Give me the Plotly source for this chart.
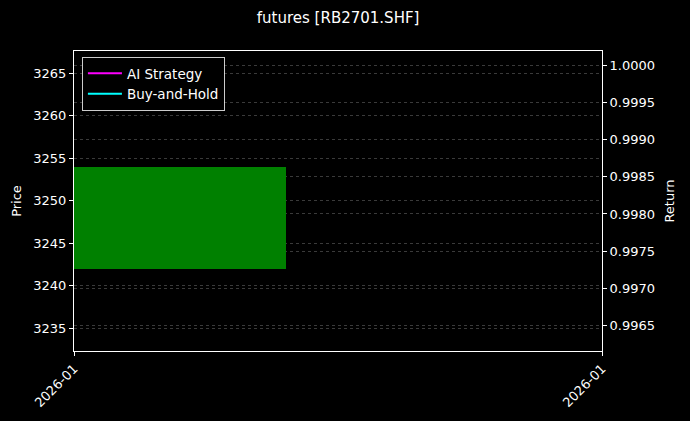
import plotly.graph_objects as go
import pandas as pd

# ---- data ----
dates = ["2026-01-05"]
opens = [3242.0]
closes = [3254.0]
ai_strategy = [1.0]
buy_and_hold = [1.0]
tick_labels = ["2026-01", "2026-01"]

DAY_MS = 86400000
bar_w_days = 0.6

d = pd.to_datetime(dates)
bar_x = list(d)
bar_base = opens
bar_len = [c - o for o, c in zip(opens, closes)]

x_left = d[0] - pd.Timedelta(days=bar_w_days / 2)
x_right = x_left + pd.Timedelta(days=bar_w_days * 528 / 212)

font = "DejaVu Sans"
fig = go.Figure()
fig.add_trace(go.Bar(
    x=bar_x, y=bar_len, base=bar_base, width=[bar_w_days * DAY_MS],
    marker=dict(color="#008000", line=dict(width=0)),
    showlegend=False, yaxis="y", hoverinfo="skip",
))
fig.add_trace(go.Scatter(x=bar_x, y=ai_strategy, mode="lines", name="AI Strategy",
                         line=dict(color="#ff00ff", width=2), yaxis="y2"))
fig.add_trace(go.Scatter(x=bar_x, y=buy_and_hold, mode="lines", name="Buy-and-Hold",
                         line=dict(color="#00ffff", width=2), yaxis="y2"))

grid = dict(showgrid=True, gridcolor="rgba(128,128,128,0.45)", gridwidth=0.5, griddash="dot")
axline = dict(showline=True, linecolor="white", linewidth=1, ticks="outside",
              tickcolor="white", ticklen=4, tickfont=dict(size=13, color="white", family=font))

fig.update_layout(
    width=690, height=421,
    paper_bgcolor="black", plot_bgcolor="black",
    margin=dict(l=74, r=88, t=51, b=70, autoexpand=False),
    font=dict(family=font, color="white", size=13),
    title=dict(text="futures [RB2701.SHF]", x=0.49, xanchor="center", y=0.957, yanchor="middle",
               font=dict(size=15, color="white", family=font)),
    xaxis=dict(type="date", range=[x_left, x_right], tickvals=[x_left, x_right], ticktext=tick_labels,
               tickangle=-45, showgrid=False, mirror=True, zeroline=False, **axline),
    yaxis=dict(title=dict(text="Price", font=dict(size=13, color="white"), standoff=8), range=[3232.3, 3267.6],
               dtick=5, tickformat="d", zeroline=False, mirror=False, **grid, **axline),
    yaxis2=dict(title=dict(text="Return", font=dict(size=13, color="white"), standoff=10), overlaying="y", side="right",
                range=[0.99615, 1.0002], dtick=0.0005, tickformat=".4f", zeroline=False, **grid, **axline),
    legend=dict(x=0.015, y=0.98, xanchor="left", yanchor="top", bgcolor="black",
                bordercolor="rgba(255,255,255,0.8)", borderwidth=1, itemwidth=34,
                font=dict(size=13.5, color="white", family=font)),
    bargap=0,
)
fig.write_html("out.html", config={"displayModeBar": False},
               post_script="document.body.style.margin='0';document.body.style.background='black';")
